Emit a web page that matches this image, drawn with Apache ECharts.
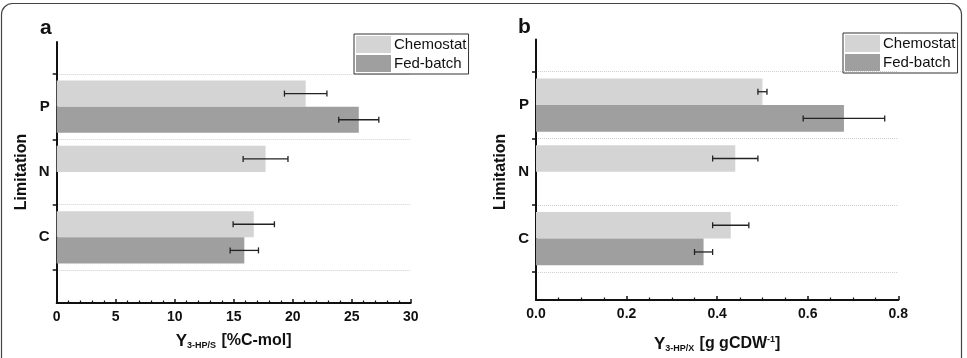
<!DOCTYPE html>
<html>
<head>
<meta charset="utf-8">
<script src="https://cdn.jsdelivr.net/npm/echarts@6/dist/echarts.min.js"></script>
<style>
  html, body { margin: 0; padding: 0; background: #fff; }
  #chart { width: 967px; height: 358px; }
</style>
</head>
<body>
<div id="chart"></div>
<script>
'use strict';

// categories bottom -> top (ECharts draws first category at the bottom)
const categories = ['C', 'N', 'P'];
const seriesNames = ['Chemostat', 'Fed-batch'];

// panel a: Y 3-HP/S [%C-mol]
const chemoA = [16.7, 17.7, 21.1];
const chemoAErr = [1.75, 1.9, 1.8];
const fedA = [15.9, null, 25.6];
const fedAErr = [1.2, null, 1.7];

// panel b: Y 3-HP/X [g gCDW-1]
const chemoB = [0.43, 0.44, 0.50];
const chemoBErr = [0.04, 0.05, 0.01];
const fedB = [0.37, null, 0.68];
const fedBErr = [0.02, null, 0.09];

const FONT = '"Liberation Sans", Arial, sans-serif';
const LIGHT = '#d4d4d4';
const DARK = '#9f9f9f';
const INK = '#111';

function errData(vals, errs) {
  const out = [];
  vals.forEach((v, i) => {
    if (v == null || errs[i] == null) return;
    out.push([i, v - errs[i], v + errs[i]]);
  });
  return out;
}

// slot -1 = upper bar in the band, +1 = lower bar
function errRender(slot) {
  return function (params, api) {
    const c = api.value(0);
    const p1 = api.coord([api.value(1), c]);
    const p2 = api.coord([api.value(2), c]);
    const band = api.size([0, 1])[1];
    const y = p1[1] + slot * band * 0.8 / 4;
    const cap = 3;
    const style = { stroke: '#222', lineWidth: 1.3 };
    return {
      type: 'group',
      children: [
        { type: 'line', shape: { x1: p1[0], y1: y, x2: p2[0], y2: y }, style },
        { type: 'line', shape: { x1: p1[0], y1: y - cap, x2: p1[0], y2: y + cap }, style },
        { type: 'line', shape: { x1: p2[0], y1: y - cap, x2: p2[0], y2: y + cap }, style },
      ],
    };
  };
}

function frameX(gi, max, interval, split, name, gap, fmt) {
  return {
    gridIndex: gi, type: 'value', min: 0, max, interval,
    name, nameLocation: 'middle', nameGap: gap,
    nameTextStyle: {
      fontFamily: FONT, color: INK,
      rich: {
        y: { fontSize: 17, fontWeight: 'bold', fontFamily: FONT, color: INK },
        sub: { fontSize: 9, fontWeight: 'bold', fontFamily: FONT, color: INK, padding: [9, 2, 0, 0] },
        sup: { fontSize: 9, fontWeight: 'bold', fontFamily: FONT, color: INK, padding: [0, 0, 8, 0] },
        t: { fontSize: 16, fontWeight: 'bold', fontFamily: FONT, color: INK },
      },
    },
    axisLine: { show: true, onZero: false, lineStyle: { color: INK, width: 2 } },
    axisTick: { show: true, inside: true, length: 4, lineStyle: { color: INK, width: 1.5 } },
    minorTick: { show: true, splitNumber: split, length: 2.5, lineStyle: { color: INK, width: 1.2 } },
    axisLabel: { fontFamily: FONT, fontSize: 14, fontWeight: 'bold', color: INK, margin: 7, formatter: fmt },
    splitLine: { show: false },
  };
}

function frameY(gi) {
  return {
    gridIndex: gi, type: 'value', min: 0, max: 1,
    axisLine: { show: true, lineStyle: { color: INK, width: 2 } },
    axisTick: { show: false }, axisLabel: { show: false }, splitLine: { show: false },
  };
}

function barsX(gi, max) {
  return { gridIndex: gi, type: 'value', min: 0, max, show: false, splitLine: { show: false } };
}

function barsY(gi) {
  return {
    gridIndex: gi, type: 'category', data: categories,
    name: 'Limitation', nameLocation: 'middle', nameGap: 27,
    nameTextStyle: { fontFamily: FONT, fontSize: 16, fontWeight: 'bold', color: INK },
    axisLine: { show: false },
    axisTick: { show: true, length: 4, lineStyle: { color: INK, width: 1.5 } },
    axisLabel: { fontFamily: FONT, fontSize: 15, fontWeight: 'bold', color: INK, margin: 7 },
    splitLine: { show: true, lineStyle: { color: '#cfcfcf', type: 'dotted', width: 1 } },
  };
}

function barSeries(name, data, gi, color) {
  return {
    type: 'bar', name, data, xAxisIndex: gi, yAxisIndex: gi,
    barGap: '0%', barCategoryGap: '20%',
    itemStyle: { color }, emphasis: { disabled: true }, animation: false,
  };
}

function errSeries(data, gi, slot) {
  return {
    type: 'custom', xAxisIndex: gi, yAxisIndex: gi, data,
    encode: { x: [1, 2], y: 0 }, renderItem: errRender(slot),
    silent: true, animation: false, z: 5,
  };
}

function legend(left, top) {
  return {
    data: seriesNames, orient: 'vertical', left, top,
    icon: 'rect', itemWidth: 35, itemHeight: 17, itemGap: 2,
    padding: [2, 2, 2, 2], borderColor: '#333', borderWidth: 1,
    textStyle: { fontFamily: FONT, fontSize: 15, color: INK, padding: [0, 0, 0, -2] },
    selectedMode: false,
  };
}

const chart = echarts.init(document.getElementById('chart'), null, { renderer: 'canvas' });

chart.setOption({
  backgroundColor: '#fff',
  animation: false,
  title: [
    { text: 'a', left: 35, top: 13, textStyle: { fontFamily: FONT, fontSize: 21, fontWeight: 'bold', color: INK } },
    { text: 'b', left: 513, top: 12, textStyle: { fontFamily: FONT, fontSize: 21, fontWeight: 'bold', color: INK } },
  ],
  legend: [legend(354, 34), legend(843, 33)],
  grid: [
    { left: 56.7, top: 42, width: 354, height: 261 },
    { left: 56.7, top: 74, width: 354, height: 196 },
    { left: 536, top: 39.5, width: 362.3, height: 265.5 },
    { left: 536, top: 71.7, width: 362.3, height: 200.3 },
  ],
  xAxis: [
    frameX(0, 30, 5, 5, '{y|Y}{sub|3-HP/S} {t|[%C-mol]}', 29),
    barsX(1, 30),
    frameX(2, 0.8, 0.2, 4, '{y|Y}{sub|3-HP/X} {t|[g gCDW}{sup|-1}{t|]}', 35, v => v.toFixed(1)),
    barsX(3, 0.8),
  ],
  yAxis: [frameY(0), barsY(1), frameY(2), barsY(3)],
  series: [
    barSeries('Chemostat', chemoA, 1, LIGHT),
    barSeries('Fed-batch', fedA, 1, DARK),
    errSeries(errData(chemoA, chemoAErr), 1, -1),
    errSeries(errData(fedA, fedAErr), 1, 1),
    barSeries('Chemostat', chemoB, 3, LIGHT),
    barSeries('Fed-batch', fedB, 3, DARK),
    errSeries(errData(chemoB, chemoBErr), 3, -1),
    errSeries(errData(fedB, fedBErr), 3, 1),
  ],
  graphic: [
    {
      type: 'rect', silent: true, z: 100,
      shape: { x: 1.5, y: 3.5, width: 960, height: 400, r: 11 },
      style: { fill: 'none', stroke: '#444', lineWidth: 1.2 },
    },
  ],
});
</script>
</body>
</html>
